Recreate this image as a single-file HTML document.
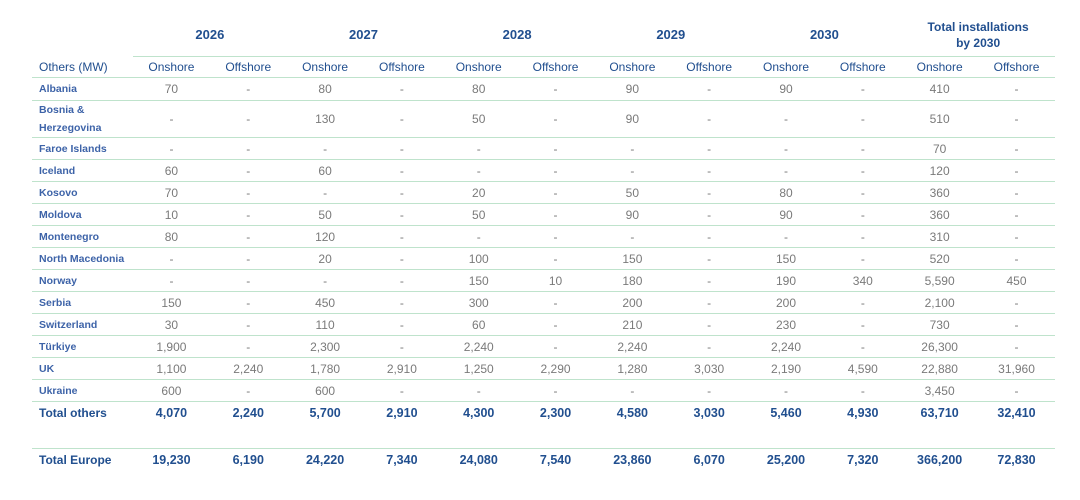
<!DOCTYPE html>
<html><head><meta charset="utf-8"><style>
body{margin:0;background:#fff;width:1080px;height:500px;overflow:hidden;font-family:"Liberation Sans",sans-serif;}
table{position:absolute;left:32px;top:13px;width:1023px;border-collapse:collapse;table-layout:fixed;}
td{padding:0;text-align:center;vertical-align:middle;font-size:12px;color:#7a7a7a;border-bottom:1px solid #bfe3cc;line-height:14px;}
td.l{text-align:left;color:#3d63a8;font-size:10.5px;font-weight:bold;padding-left:7px;}
tr.yr td{height:43px;border-bottom:1px solid #bfe3cc;color:#214f8f;font-weight:bold;font-size:13px;}
tr.yr td.e{border-bottom:none}
tr.ch td{height:20px;color:#214f8f;font-size:12px;}
tr.ch td.l{font-size:12px;font-weight:normal;color:#214f8f}
tr.r td{height:21px}
tr.tot td{height:22px;color:#214f8f;font-weight:bold;font-size:12.5px;border-bottom:none}
tr.tot td.l{font-size:12px;color:#214f8f}
tr.sp td{height:24px;border-bottom:1px solid #bfe3cc}
</style></head><body>
<table>
<colgroup><col style="width:101px"><col span="12" style="width:76.8px"></colgroup>
<tr class="yr"><td class="e"></td><td colspan="2">2026</td><td colspan="2">2027</td><td colspan="2">2028</td><td colspan="2">2029</td><td colspan="2">2030</td><td colspan="2" style="font-size:12px;line-height:16px">Total installations<br>by 2030</td></tr>
<tr class="ch"><td class="l">Others (MW)</td><td>Onshore</td><td>Offshore</td><td>Onshore</td><td>Offshore</td><td>Onshore</td><td>Offshore</td><td>Onshore</td><td>Offshore</td><td>Onshore</td><td>Offshore</td><td>Onshore</td><td>Offshore</td></tr>
<tr class="r"><td class="l" style="height:22px">Albania</td><td>70</td><td>-</td><td>80</td><td>-</td><td>80</td><td>-</td><td>90</td><td>-</td><td>90</td><td>-</td><td>410</td><td>-</td></tr>
<tr class="r"><td class="l" style="height:36px;line-height:18px">Bosnia &amp;<br>Herzegovina</td><td>-</td><td>-</td><td>130</td><td>-</td><td>50</td><td>-</td><td>90</td><td>-</td><td>-</td><td>-</td><td>510</td><td>-</td></tr>
<tr class="r"><td class="l">Faroe Islands</td><td>-</td><td>-</td><td>-</td><td>-</td><td>-</td><td>-</td><td>-</td><td>-</td><td>-</td><td>-</td><td>70</td><td>-</td></tr>
<tr class="r"><td class="l">Iceland</td><td>60</td><td>-</td><td>60</td><td>-</td><td>-</td><td>-</td><td>-</td><td>-</td><td>-</td><td>-</td><td>120</td><td>-</td></tr>
<tr class="r"><td class="l">Kosovo</td><td>70</td><td>-</td><td>-</td><td>-</td><td>20</td><td>-</td><td>50</td><td>-</td><td>80</td><td>-</td><td>360</td><td>-</td></tr>
<tr class="r"><td class="l">Moldova</td><td>10</td><td>-</td><td>50</td><td>-</td><td>50</td><td>-</td><td>90</td><td>-</td><td>90</td><td>-</td><td>360</td><td>-</td></tr>
<tr class="r"><td class="l">Montenegro</td><td>80</td><td>-</td><td>120</td><td>-</td><td>-</td><td>-</td><td>-</td><td>-</td><td>-</td><td>-</td><td>310</td><td>-</td></tr>
<tr class="r"><td class="l">North Macedonia</td><td>-</td><td>-</td><td>20</td><td>-</td><td>100</td><td>-</td><td>150</td><td>-</td><td>150</td><td>-</td><td>520</td><td>-</td></tr>
<tr class="r"><td class="l">Norway</td><td>-</td><td>-</td><td>-</td><td>-</td><td>150</td><td>10</td><td>180</td><td>-</td><td>190</td><td>340</td><td>5,590</td><td>450</td></tr>
<tr class="r"><td class="l">Serbia</td><td>150</td><td>-</td><td>450</td><td>-</td><td>300</td><td>-</td><td>200</td><td>-</td><td>200</td><td>-</td><td>2,100</td><td>-</td></tr>
<tr class="r"><td class="l">Switzerland</td><td>30</td><td>-</td><td>110</td><td>-</td><td>60</td><td>-</td><td>210</td><td>-</td><td>230</td><td>-</td><td>730</td><td>-</td></tr>
<tr class="r"><td class="l">Türkiye</td><td>1,900</td><td>-</td><td>2,300</td><td>-</td><td>2,240</td><td>-</td><td>2,240</td><td>-</td><td>2,240</td><td>-</td><td>26,300</td><td>-</td></tr>
<tr class="r"><td class="l">UK</td><td>1,100</td><td>2,240</td><td>1,780</td><td>2,910</td><td>1,250</td><td>2,290</td><td>1,280</td><td>3,030</td><td>2,190</td><td>4,590</td><td>22,880</td><td>31,960</td></tr>
<tr class="r"><td class="l">Ukraine</td><td>600</td><td>-</td><td>600</td><td>-</td><td>-</td><td>-</td><td>-</td><td>-</td><td>-</td><td>-</td><td>3,450</td><td>-</td></tr>
<tr class="tot"><td class="l">Total others</td><td>4,070</td><td>2,240</td><td>5,700</td><td>2,910</td><td>4,300</td><td>2,300</td><td>4,580</td><td>3,030</td><td>5,460</td><td>4,930</td><td>63,710</td><td>32,410</td></tr>
<tr class="sp"><td colspan="13"></td></tr>
<tr class="tot"><td class="l">Total Europe</td><td>19,230</td><td>6,190</td><td>24,220</td><td>7,340</td><td>24,080</td><td>7,540</td><td>23,860</td><td>6,070</td><td>25,200</td><td>7,320</td><td>366,200</td><td>72,830</td></tr>
</table>
</body></html>
